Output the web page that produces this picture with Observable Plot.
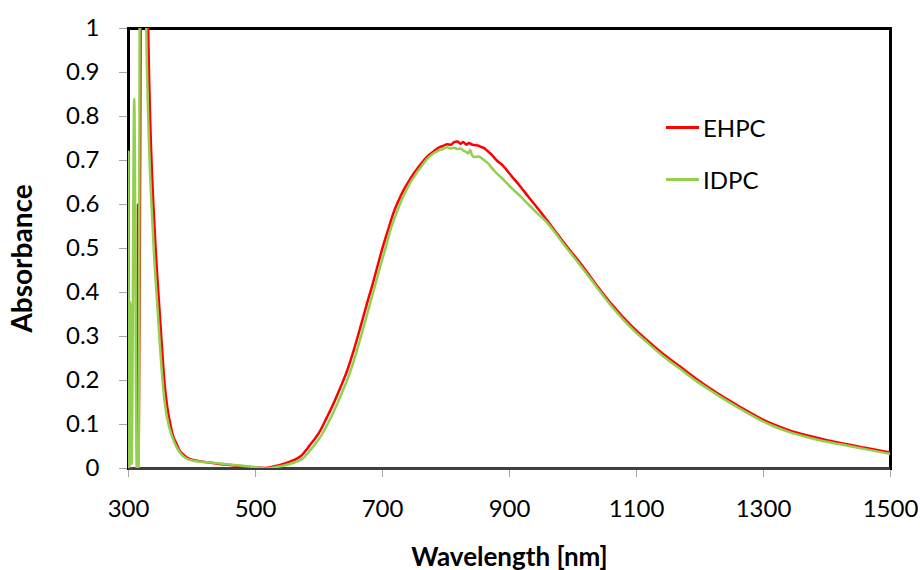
<!DOCTYPE html>
<html>
<head>
<meta charset="utf-8">
<script src="https://cdn.jsdelivr.net/npm/d3@7"></script>
<script src="https://cdn.jsdelivr.net/npm/@observablehq/plot@0.6"></script>
<style>
  html, body { margin: 0; padding: 0; background: #fff; }
  #chart { position: relative; width: 920px; height: 570px; font-family: Lato, "Open Sans", sans-serif; }
  #chart svg { display: block; }
  g[aria-label="x-axis label"] text { font-weight: bold; font-size: 26px; }
  g[aria-label="y-axis label"] text { font-weight: bold; font-size: 28px; }
  .legend { position: absolute; left: 666px; top: 112px; font-size: 24px; color: #000; }
  .legend .row { display: flex; align-items: center; height: 30px; margin-bottom: 22px; }
  .legend .sw { width: 33px; height: 0; border-top: 3px solid; margin-right: 4px; }
</style>
</head>
<body>
<div id="chart"></div>
<script>
// Absorbance spectra of the two polymer solutions
const seriesNames = ["EHPC", "IDPC"];
const seriesColors = ["#ff0000", "#92d050"];

const ehpcWavelength = [300, 301, 314, 315, 316, 318, 320, 329, 331, 342, 347, 352, 357, 361, 366, 370, 375, 380, 386, 392, 400, 410, 425, 440, 460, 480, 500, 515, 530, 545, 560, 571, 585, 602, 612, 623, 634, 645, 655, 665, 675, 686, 694, 702, 710, 717, 725, 733, 741, 749, 757, 765, 772, 780, 788, 795, 802, 808, 812, 818, 823, 827, 832, 836, 840, 845, 850, 855, 860, 865, 870, 880, 890, 903, 917, 930, 944, 957, 969, 990, 1012, 1038, 1064, 1090, 1117, 1143, 1169, 1195, 1221, 1243, 1264, 1290, 1316, 1342, 1369, 1395, 1421, 1460, 1500];
const ehpcAbsorbance = [0.29, 0, 0, 0.6, 0.02, 0.57, 1.2, 1.2, 1.0, 0.52, 0.40, 0.29, 0.19, 0.14, 0.10, 0.075, 0.058, 0.042, 0.032, 0.025, 0.02, 0.017, 0.014, 0.011, 0.008, 0.005, 0.002, 0.001, 0.005, 0.011, 0.019, 0.028, 0.052, 0.086, 0.115, 0.148, 0.185, 0.225, 0.27, 0.32, 0.372, 0.427, 0.47, 0.511, 0.548, 0.58, 0.608, 0.632, 0.652, 0.67, 0.686, 0.70, 0.711, 0.72, 0.729, 0.733, 0.737, 0.736, 0.741, 0.743, 0.738, 0.742, 0.736, 0.740, 0.737, 0.735, 0.734, 0.731, 0.728, 0.722, 0.716, 0.70, 0.688, 0.665, 0.641, 0.617, 0.592, 0.568, 0.545, 0.505, 0.466, 0.415, 0.368, 0.327, 0.291, 0.259, 0.231, 0.203, 0.177, 0.157, 0.139, 0.118, 0.1, 0.086, 0.075, 0.066, 0.058, 0.047, 0.036];

const idpcWavelength = [300, 301, 302, 303.5, 305, 309, 313, 316, 318, 326, 328, 339, 344, 349, 355, 359, 363, 367, 371, 376, 382, 390, 398, 410, 425, 440, 460, 480, 500, 515, 530, 545, 560, 574, 588, 605, 615, 626, 637, 648, 658, 668, 678, 688, 697, 705, 712, 720, 728, 736, 744, 752, 760, 770, 780, 787, 795, 802, 808, 813, 818, 823, 828, 832, 835, 838, 841, 845, 851, 858, 865, 877, 890, 903, 917, 930, 944, 957, 968, 990, 1012, 1038, 1064, 1090, 1117, 1143, 1169, 1195, 1221, 1243, 1264, 1290, 1316, 1342, 1369, 1395, 1421, 1460, 1500];
const idpcAbsorbance = [0.72, 0, 0.38, 0.36, 0.01, 0.84, 0, 0, 1.2, 1.2, 1.0, 0.52, 0.40, 0.29, 0.177, 0.13, 0.10, 0.08, 0.064, 0.048, 0.034, 0.024, 0.019, 0.016, 0.014, 0.012, 0.009, 0.006, 0.003, 0, 0.003, 0.007, 0.013, 0.022, 0.045, 0.078, 0.105, 0.138, 0.175, 0.215, 0.26, 0.31, 0.362, 0.415, 0.462, 0.502, 0.54, 0.573, 0.603, 0.628, 0.65, 0.668, 0.684, 0.703, 0.716, 0.722, 0.726, 0.73, 0.727, 0.729, 0.726, 0.727, 0.722, 0.719, 0.716, 0.724, 0.712, 0.708, 0.709, 0.703, 0.695, 0.675, 0.657, 0.638, 0.619, 0.6, 0.58, 0.562, 0.543, 0.501, 0.461, 0.411, 0.363, 0.322, 0.286, 0.254, 0.226, 0.198, 0.173, 0.153, 0.135, 0.114, 0.096, 0.082, 0.071, 0.062, 0.055, 0.044, 0.033];

const xTicks = [300, 500, 700, 900, 1100, 1300, 1500];
const yTicks = [0, 0.1, 0.2, 0.3, 0.4, 0.5, 0.6, 0.7, 0.8, 0.9, 1];

const rows = [
  ...ehpcWavelength.map((w, i) => ({series: seriesNames[0], wavelength: w, absorbance: ehpcAbsorbance[i]})),
  ...idpcWavelength.map((w, i) => ({series: seriesNames[1], wavelength: w, absorbance: idpcAbsorbance[i]}))
];

const chart = Plot.plot({
  width: 920,
  height: 570,
  marginLeft: 128,
  marginRight: 30,
  marginTop: 28,
  marginBottom: 102,
  style: {fontFamily: "Lato, 'Open Sans', sans-serif", fontSize: "24px", color: "#000", background: "#fff"},
  x: {domain: [300, 1500]},
  y: {domain: [0, 1]},
  color: {domain: seriesNames, range: seriesColors},
  marks: [
    Plot.axisX({ticks: xTicks, tickSize: 9, tickPadding: 22, stroke: "#a6a6a6", fill: "#000", fontSize: 24,
      tickFormat: d => String(d),
      label: "Wavelength [nm]", labelAnchor: "center", labelOffset: 97, labelArrow: "none"}),
    Plot.axisY({ticks: yTicks, tickSize: 9, tickPadding: 20, stroke: "#a6a6a6", fill: "#000", fontSize: 24,
      tickFormat: d => d3.format("~g")(d),
      label: "Absorbance", labelAnchor: "center", labelOffset: 116, labelArrow: "none"}),
    Plot.frame({stroke: "#000", strokeWidth: 3}),
    Plot.ruleY([0], {stroke: "#404040", strokeWidth: 3}),
    Plot.line(rows, {x: "wavelength", y: "absorbance", z: "series", stroke: "series",
      strokeWidth: 2.5, curve: "monotone-x", clip: true})
  ]
});

// axis titles carry no direction arrows
d3.select(chart).selectAll('g[aria-label$="axis label"] text')
  .text(function () { return this.textContent.replace(/\s*[\u2190-\u2193]\s*/g, ""); });

// the vertical title sits a little below the middle of the frame
const yTitle = d3.select(chart).select('g[aria-label="y-axis label"]');
yTitle.attr("transform", (yTitle.attr("transform") || "") + " translate(0,10)");

const host = document.getElementById("chart");
host.appendChild(chart);

// Legend drawn as a small overlay inside the plotting area
const legend = document.createElement("div");
legend.className = "legend";
seriesNames.forEach((name, i) => {
  const row = document.createElement("div");
  row.className = "row";
  const sw = document.createElement("span");
  sw.className = "sw";
  sw.style.borderTopColor = seriesColors[i];
  const label = document.createElement("span");
  label.textContent = name;
  row.appendChild(sw);
  row.appendChild(label);
  legend.appendChild(row);
});
host.appendChild(legend);
</script>
</body>
</html>
